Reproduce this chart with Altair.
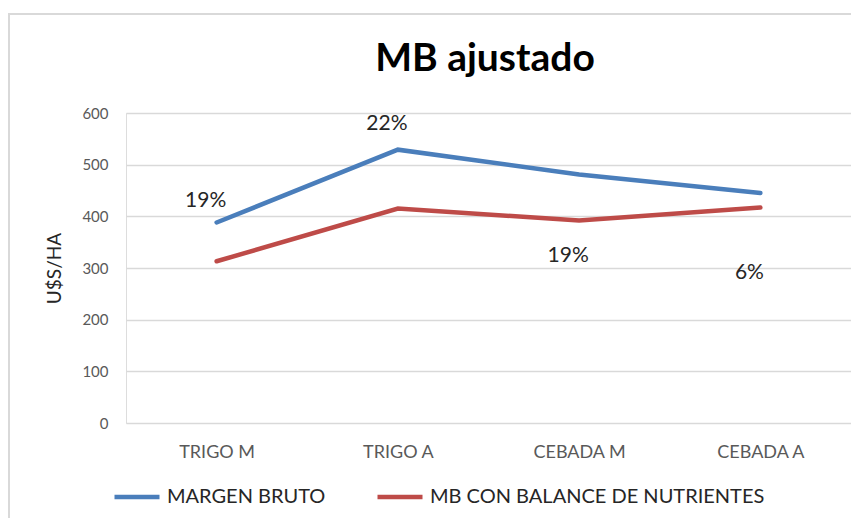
import altair as alt
import pandas as pd

categories = ["TRIGO M", "TRIGO A", "CEBADA M", "CEBADA A"]
margen_bruto = [388, 529, 481, 445]
mb_balance = [313, 415, 392, 417]
series_names = ["MARGEN BRUTO", "MB CON BALANCE DE NUTRIENTES"]
colors = ["#4A7EBB", "#BE4B48"]

label_texts = ["19%", "22%", "19%", "6%"]
label_anchor = [430, 578, 323, 290]  # y-values where the percentage labels sit

title_text = "MB ajustado"

rows = []
for c, v in zip(categories, margen_bruto):
    rows.append({"cat": c, "serie": series_names[0], "val": v})
for c, v in zip(categories, mb_balance):
    rows.append({"cat": c, "serie": series_names[1], "val": v})
df = pd.DataFrame(rows)

lab = pd.DataFrame({"cat": categories, "txt": label_texts, "pos": label_anchor})

FONT = "Lato"

x = alt.X("cat:N", sort=categories, title=None,
          scale=alt.Scale(paddingInner=0, paddingOuter=0.5),
          axis=alt.Axis(labelAngle=0, labelFontSize=18, labelColor="#595959",
                        labelPadding=20, ticks=False, domain=False, grid=False,
                        labelFont=FONT))
y = alt.Y("val:Q", title="U$S/HA",
          scale=alt.Scale(domain=[0, 600], nice=False),
          axis=alt.Axis(values=[0, 100, 200, 300, 400, 500, 600], labelFontSize=15,
                        labelColor="#595959", labelPadding=18, ticks=False,
                        domain=False, gridColor="#D9D9D9", gridWidth=1.3,
                        titleFontSize=19, titleFontWeight="normal", titleColor="#262626",
                        titlePadding=17, labelFont=FONT, titleFont=FONT))

border = alt.Chart(pd.DataFrame({"a": [0]})).mark_rect(
    fill=None, stroke="#D9D9D9", strokeWidth=2
).encode(x=alt.value(-117), x2=alt.value(760), y=alt.value(-99), y2=alt.value(420))

title = alt.Chart(pd.DataFrame({"t": [title_text]})).mark_text(
    fontSize=39, font=FONT, fontWeight="bold", color="#000000",
    align="center", baseline="alphabetic"
).encode(x=alt.value(359), y=alt.value(-42), text="t:N")

lines = alt.Chart(df).mark_line(strokeWidth=4.5, strokeCap="round").encode(
    x=x, y=y,
    color=alt.Color("serie:N", sort=series_names,
                    scale=alt.Scale(domain=series_names, range=colors),
                    legend=alt.Legend(title=None, orient="none", direction="horizontal",
                                      legendX=-14, legendY=359, symbolType="stroke",
                                      symbolSize=2025, symbolStrokeWidth=4.5,
                                      labelFontSize=20, labelColor="#262626",
                                      labelFont=FONT, labelLimit=500,
                                      columnPadding=42, symbolOffset=0, labelOffset=5)),
    detail="serie:N",
)

texts = alt.Chart(lab).mark_text(fontSize=21, color="#262626", dx=-11, font=FONT).encode(
    x=alt.X("cat:N", sort=categories),
    y=alt.Y("pos:Q"),
    text="txt:N",
)

chart = alt.layer(border, title, lines, texts).properties(
    width=725, height=310,
    autosize=alt.AutoSizeParams(type="none"),
    padding={"left": 118, "top": 105, "right": 0, "bottom": 95},
).configure_view(stroke=None).configure(background="white")

chart.save("out.html", embed_options={"renderer": "svg", "actions": False})
